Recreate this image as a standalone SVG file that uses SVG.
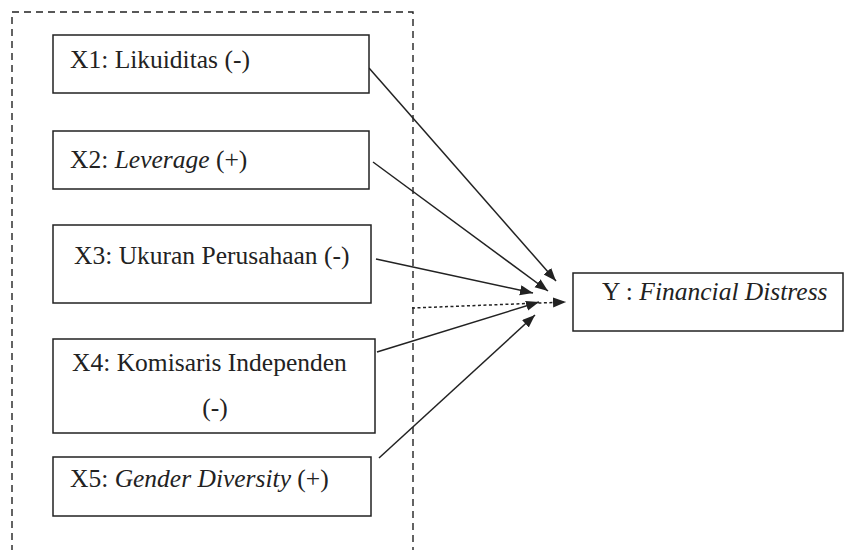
<svg xmlns="http://www.w3.org/2000/svg" width="846" height="550" viewBox="0 0 846 550">
<style>
.box{fill:#fff;stroke:#222;stroke-width:1.5}
.t{font-family:"Liberation Serif","Times New Roman",serif;font-size:25.5px;fill:#222}
.i{font-style:italic}
.c{fill:none;stroke:#222;stroke-width:1.5}
.dot{stroke-dasharray:3 2.5}
.frame{fill:none;stroke:#222;stroke-width:1.4;stroke-dasharray:7 5}
</style>
<defs>
<marker id="ah" markerUnits="userSpaceOnUse" markerWidth="14" markerHeight="11" refX="13" refY="5" orient="auto">
<path d="M0,0 L13,5 L0,10 z" fill="#222"/>
</marker>
</defs>
<rect width="846" height="550" fill="#fff"/>
<path class="frame" d="M12,552 V12 H413 V552"/>
<g id="connectors">
<line class="c" x1="369" y1="68" x2="556" y2="281" marker-end="url(#ah)"/>
<line class="c" x1="373" y1="162" x2="548" y2="291" marker-end="url(#ah)"/>
<line class="c" x1="376" y1="259" x2="533" y2="293" marker-end="url(#ah)"/>
<line class="c dot" x1="412" y1="308" x2="566" y2="302" marker-end="url(#ah)"/>
<line class="c" x1="377" y1="352" x2="539" y2="302" marker-end="url(#ah)"/>
<line class="c" x1="379" y1="458" x2="535" y2="315" marker-end="url(#ah)"/>
</g>
<g id="x1">
<rect class="box" x="53" y="35" width="316" height="58"/>
<text class="t" x="70" y="68">X1: Likuiditas (-)</text>
</g>
<g id="x2">
<rect class="box" x="53" y="131" width="316" height="58"/>
<text class="t" x="70" y="168">X2: <tspan class="i">Leverage</tspan> (+)</text>
</g>
<g id="x3">
<rect class="box" x="53" y="225" width="318" height="78"/>
<text class="t" x="74" y="264">X3: Ukuran Perusahaan (-)</text>
</g>
<g id="x4">
<rect class="box" x="53" y="339" width="322" height="94"/>
<text class="t" x="72" y="371">X4: Komisaris Independen</text>
<text class="t" x="215" y="416" text-anchor="middle">(-)</text>
</g>
<g id="x5">
<rect class="box" x="53" y="457" width="318" height="59"/>
<text class="t" x="70" y="487">X5: <tspan class="i">Gender Diversity</tspan> (+)</text>
</g>
<g id="y">
<rect class="box" x="573" y="273" width="270" height="58"/>
<text class="t" x="602" y="300">Y : <tspan class="i">Financial Distress</tspan></text>
</g>
</svg>
